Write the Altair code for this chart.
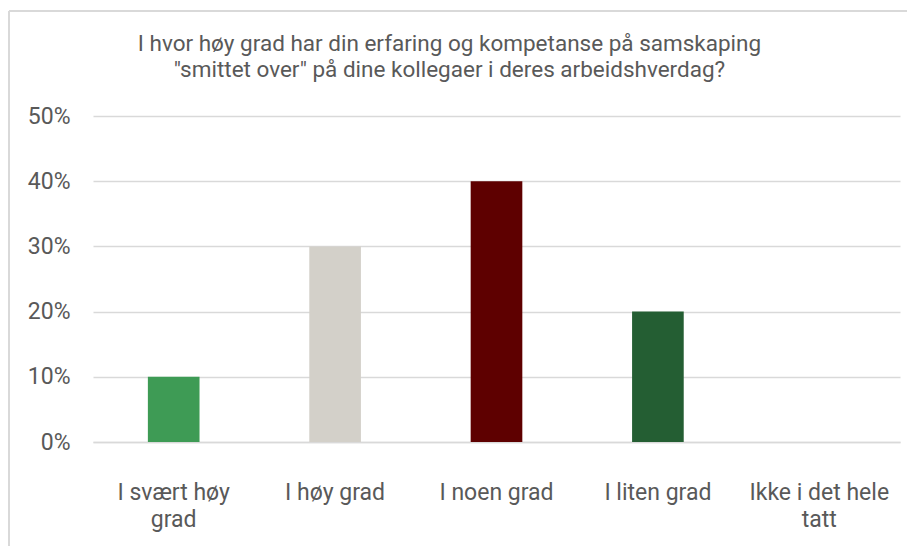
import altair as alt
import pandas as pd

categories = ["I svært høy grad", "I høy grad", "I noen grad", "I liten grad", "Ikke i det hele tatt"]
label_lines = [["I svært høy", "grad"], ["I høy grad"], ["I noen grad"], ["I liten grad"], ["Ikke i det hele", "tatt"]]
values = [0.10, 0.30, 0.40, 0.20, 0.0]
colors = ["#3E9B55", "#D3D0C9", "#5E0000", "#245E33", "#A6A6A6"]
title_lines = ["I hvor høy grad har din erfaring og kompetanse på samskaping",
               "\"smittet over\" på dine kollegaer i deres arbeidshverdag?"]

df = pd.DataFrame({"kategori": categories, "andel": values})

label_expr = " : ".join(
    f"datum.label == '{c}' ? {[l for l in ls]}" for c, ls in zip(categories, label_lines)
) + " : datum.label"

FONT = "Roboto"
TXT = "#595959"
GRID = "#D9D9D9"
FS = 23

bars = alt.Chart(df).mark_bar().encode(
    x=alt.X("kategori:N", sort=categories, title=None,
            scale=alt.Scale(paddingInner=0.68, paddingOuter=0.34),
            axis=alt.Axis(labelAngle=0, labelExpr=label_expr, labelFontSize=FS,
                          labelColor=TXT, labelFont=FONT, labelPadding=39,
                          labelLineHeight=27, ticks=False, domainColor=GRID,
                          domainWidth=1.3, grid=False, labelLimit=250)),
    y=alt.Y("andel:Q", title=None,
            scale=alt.Scale(domain=[0, 0.5]),
            axis=alt.Axis(format=".0%", values=[0, 0.1, 0.2, 0.3, 0.4, 0.5],
                          labelFontSize=FS, labelColor=TXT, labelFont=FONT,
                          labelPadding=23, ticks=False, domain=False,
                          gridColor=GRID, gridWidth=1.3)),
    color=alt.Color("kategori:N", sort=categories,
                    scale=alt.Scale(domain=categories, range=colors), legend=None),
)

border_left = alt.Chart(df).mark_rule(color=GRID, strokeWidth=1.3).encode(
    x=alt.value(-84), y=alt.value(-105), y2=alt.value(440))
border_top = alt.Chart(df).mark_rule(color=GRID, strokeWidth=1.3).encode(
    x=alt.value(-84), x2=alt.value(830), y=alt.value(-105))

chart = alt.layer(border_left, border_top, bars).properties(
    width=807, height=326,
    autosize=alt.AutoSizeParams(type="none"),
    padding={"left": 85, "top": 108, "right": 7, "bottom": 104},
    title=alt.TitleParams(text=title_lines, fontSize=22.5, font=FONT, color=TXT,
                          fontWeight="normal", anchor="middle", dx=-47,
                          lineHeight=26, offset=-71),
).configure_view(stroke=None)

chart.save("out.html", embed_options={"renderer": "svg", "actions": False})
